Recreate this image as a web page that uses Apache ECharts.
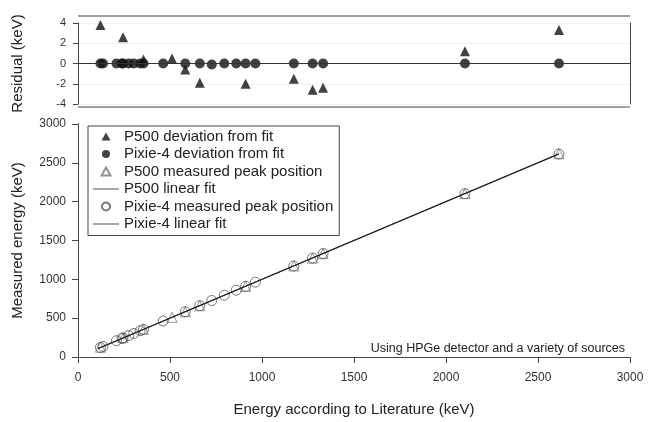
<!DOCTYPE html>
<html>
<head>
<meta charset="utf-8">
<script src="https://cdn.jsdelivr.net/npm/echarts@6/dist/echarts.min.js"></script>
<style>html,body{margin:0;padding:0;background:#fff}#chart{width:657px;height:422px}</style>
</head>
<body>
<div id="chart"></div>
<script>
// literature energies (keV)
var energies     = [122, 136, 209, 239, 245, 276, 303, 338, 356, 463, 511, 583, 662, 727, 795, 860, 911, 964, 1173, 1275, 1332, 2103, 2614];
// residuals from the fits (keV)
var p500Resid    = [3.8, null, null, null, 2.6, null, null, null, 0.4, null, 0.5, -0.6, -1.9, null, null, null, -2.0, null, -1.5, -2.6, -2.4, 1.2, 3.3];
var pixieResid   = [0, 0, 0, 0, 0, 0, 0, 0, 0, 0, null, 0, 0, -0.1, 0, 0, 0, 0, 0, 0, 0, 0, 0];
// measured peak positions (keV)
var p500Meas     = [126, null, null, null, 248, null, null, null, 356, null, 511, 582, 660, null, null, null, 909, null, 1172, 1272, 1330, 2104, 2617];
var pixieMeas    = [122, 136, 209, 239, 245, 276, 303, 338, 356, 463, null, 583, 662, 727, 795, 860, 911, 964, 1173, 1275, 1332, 2103, 2614];
var fitRange     = [110, 2614];

function pairs(xs, ys) {
    var out = [];
    xs.forEach(function(x, i){ if (ys[i] !== null) out.push([x, ys[i]]); });
    return out;
}
function plain(v) { return String(v); }

// legend icons share one 26x10 box so markers stay small and lines stay long
var box = 'M0,0L0,0M26,10L26,10';
var triIcon  = 'path://' + box + 'M13,1L17.5,9L8.5,9Z';
var dotIcon  = 'path://' + box + 'M13,1A4,4 0 1 1 12.99,1Z';
var lineIcon = 'path://' + box + 'M0,4.6L26,4.6L26,5.4L0,5.4Z';

var font = 'Liberation Sans, Arial, sans-serif';
var gray = '#444';
var chart = echarts.init(document.getElementById('chart'));

var option = {
    backgroundColor: '#fff',
    animation: false,
    textStyle: {fontFamily: font},
    grid: [
        {left: 78, right: 27, top: 23, height: 81},
        {left: 78, right: 27, top: 124, height: 235}
    ],
    xAxis: [
        {gridIndex: 0, type: 'value', min: 0, max: 3000, show: false},
        {gridIndex: 1, type: 'value', min: 0, max: 3000, interval: 500, offset: 7,
         name: 'Energy according to Literature (keV)', nameLocation: 'middle', nameGap: 38,
         nameTextStyle: {fontSize: 15, color: '#222'},
         axisLine: {lineStyle: {color: gray}}, axisTick: {length: 6, lineStyle: {color: gray}},
         axisLabel: {color: '#333', fontSize: 12, margin: 8, formatter: plain}, splitLine: {show: false}},
        {gridIndex: 1, type: 'value', min: 0, max: 3000, position: 'top',
         axisLine: {show: true, lineStyle: {color: gray}}, axisTick: {show: false},
         axisLabel: {show: false}, splitLine: {show: false}}
    ],
    yAxis: [
        {gridIndex: 0, type: 'value', min: -4, max: 4, interval: 2, offset: 6,
         name: 'Residual (keV)', nameLocation: 'middle', nameGap: 47,
         nameTextStyle: {fontSize: 15, color: '#222'},
         axisLine: {show: true, lineStyle: {color: gray}}, axisTick: {show: true, length: 5, lineStyle: {color: gray}},
         axisLabel: {color: '#333', fontSize: 11, margin: 6},
         splitLine: {show: true, lineStyle: {color: '#f0f0f0'}}},
        {gridIndex: 1, type: 'value', min: 0, max: 3000, interval: 500, offset: 6,
         name: 'Measured energy (keV)', nameLocation: 'middle', nameGap: 47,
         nameTextStyle: {fontSize: 15, color: '#222'},
         axisLine: {show: true, lineStyle: {color: gray}}, axisTick: {show: true, length: 6, lineStyle: {color: gray}},
         axisLabel: {color: '#333', fontSize: 12, margin: 6, formatter: plain}, splitLine: {show: false}},
        {gridIndex: 1, type: 'value', min: 0, max: 3000, position: 'right',
         axisLine: {show: true, lineStyle: {color: gray}}, axisTick: {show: false},
         axisLabel: {show: false}, splitLine: {show: false}},
        {gridIndex: 0, type: 'value', min: -4, max: 4, position: 'right',
         axisLine: {show: true, lineStyle: {color: gray}}, axisTick: {show: false},
         axisLabel: {show: false}, splitLine: {show: false}}
    ],
    legend: {
        left: 88, top: 126, orient: 'vertical', itemGap: 2.5, itemWidth: 26, itemHeight: 10,
        padding: [3, 6, 4, 4], borderColor: gray, borderWidth: 1, backgroundColor: '#fff',
        textStyle: {fontSize: 15, color: '#222', fontFamily: font},
        data: [
            {name: 'P500 deviation from fit', icon: triIcon},
            {name: 'Pixie-4 deviation from fit', icon: dotIcon},
            {name: 'P500 measured peak position', icon: triIcon},
            {name: 'P500 linear fit', icon: lineIcon},
            {name: 'Pixie-4 measured peak position', icon: dotIcon},
            {name: 'Pixie-4 linear fit', icon: lineIcon}
        ]
    },
    graphic: [
        {type: 'line', shape: {x1: 78, y1: 16, x2: 630, y2: 16}, style: {stroke: gray, lineWidth: 1.2}},
        {type: 'line', shape: {x1: 78, y1: 107, x2: 630, y2: 107}, style: {stroke: gray, lineWidth: 1.2}},
        {type: 'text', right: 32, top: 342, style: {text: 'Using HPGe detector and a variety of sources', fontSize: 12.5, fill: '#222', fontFamily: font}}
    ],
    series: [
        {name: 'zero', type: 'line', xAxisIndex: 0, yAxisIndex: 0, data: [[0, 0], [3000, 0]],
         symbol: 'none', lineStyle: {color: '#333', width: 1.2}, silent: true},
        {name: 'P500 deviation from fit', type: 'scatter', xAxisIndex: 0, yAxisIndex: 0,
         data: pairs(energies, p500Resid), symbol: 'triangle', symbolSize: 10, itemStyle: {color: '#111'}},
        {name: 'Pixie-4 deviation from fit', type: 'scatter', xAxisIndex: 0, yAxisIndex: 0,
         data: pairs(energies, pixieResid), symbol: 'circle', symbolSize: 10, itemStyle: {color: '#111'}},
        {name: 'P500 measured peak position', type: 'scatter', xAxisIndex: 1, yAxisIndex: 1,
         data: pairs(energies, p500Meas), symbol: 'triangle', symbolSize: 10,
         itemStyle: {color: '#fff', borderColor: '#777', borderWidth: 1}},
        {name: 'P500 linear fit', type: 'line', xAxisIndex: 1, yAxisIndex: 1,
         data: [[fitRange[0], fitRange[0]], [fitRange[1], fitRange[1] + 3]], symbol: 'none',
         lineStyle: {color: '#222', width: 1}, itemStyle: {color: '#222'}},
        {name: 'Pixie-4 measured peak position', type: 'scatter', xAxisIndex: 1, yAxisIndex: 1,
         data: pairs(energies, pixieMeas), symbol: 'circle', symbolSize: 10,
         itemStyle: {color: 'rgba(255,255,255,0)', borderColor: '#555', borderWidth: 1}},
        {name: 'Pixie-4 linear fit', type: 'line', xAxisIndex: 1, yAxisIndex: 1,
         data: [[fitRange[0], fitRange[0]], [fitRange[1], fitRange[1]]], symbol: 'none',
         lineStyle: {color: '#222', width: 1.2}, itemStyle: {color: '#222'}}
    ]
};
chart.setOption(option);
</script>
</body>
</html>
